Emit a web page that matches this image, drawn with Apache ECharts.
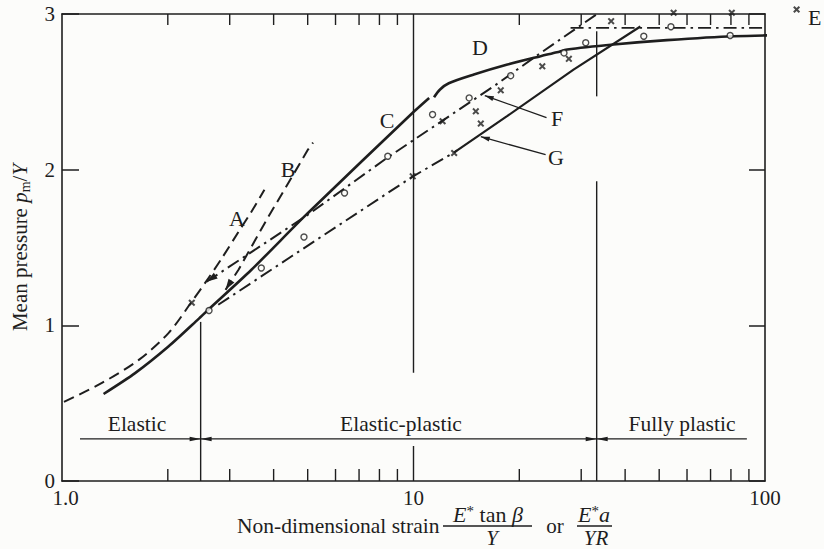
<!DOCTYPE html>
<html>
<head>
<meta charset="utf-8">
<script src="https://cdn.jsdelivr.net/npm/echarts@6/dist/echarts.min.js"></script>
<style>
html,body{margin:0;padding:0;background:#fcfcfa;}
#chart{width:824px;height:549px;}
</style>
</head>
<body>
<div id="chart"></div>
<script>
// ---------------- data ----------------
const xTickLabels = {1: '1.0', 10: '10', 100: '100'};
const yTicks = [0, 1, 2, 3];
const minorTicks = [2, 3, 4, 5, 6, 7, 8, 9, 20, 30, 40, 50, 60, 70, 80, 90];

// A: elastic (dashed)
const curveA = [[1.013,0.508],[1.299,0.630],[1.654,0.778],[2.012,0.952],[2.338,1.151],[2.578,1.286],[2.844,1.428],[3.178,1.601],[3.459,1.730],[3.766,1.871]];
// B: dashed
const curveB = [[2.919,1.228],[3.178,1.357],[3.459,1.505],[3.866,1.698],[4.292,1.871],[5.01,2.129],[5.18,2.174]];
// C: solid
const curveC = [[1.313,0.559],[1.614,0.693],[2.008,0.864],[2.443,1.040],[2.606,1.100],[3.459,1.357],[5.01,1.722],[10.05,2.375],[11.08,2.461]];
// D: solid, continues as plateau
const curveD = [[11.44,2.465],[11.9,2.515],[12.6,2.555],[14.85,2.611],[18.5,2.675],[23.0,2.729],[25.6,2.754],[27.38,2.772],[37.05,2.804],[52.6,2.832],[81.2,2.857],[143,2.868]];
// E: dash-dot plateau
const curveE = [[27.98,2.911],[145,2.911]];
// F: dash-dot
const curveF = [[2.578,1.280],[5.01,1.711],[8.45,2.079],[16.92,2.536],[23.0,2.750],[33.3,3.0]];
// G: dash-dot then solid
const curveG1 = [[2.783,1.132],[4.49,1.442],[9.95,1.956],[13.03,2.109]];
const curveG2 = [[13.03,2.109],[18.5,2.345],[28.53,2.643],[44.2,2.920]];

// experimental points
const pointsCircle = [[2.62,1.095],[3.69,1.368],[4.88,1.567],[6.365,1.850],[8.45,2.086],[11.33,2.354],[14.4,2.461],[18.9,2.604],[26.8,2.750],[30.9,2.815],[45.2,2.857],[54.0,2.918],[79.6,2.862]];
const pointsCross = [[2.34,1.145],[9.95,1.957],[12.1,2.311],[13.05,2.107],[15.04,2.375],[15.54,2.296],[17.71,2.51],[23.25,2.664],[27.67,2.712],[36.5,2.954],[54.96,3.008],[80.45,3.008],[123,3.029]];

// regime boundaries
const elasticLimit = 2.48;
const plasticLimit = 33.2;
const regionBarY = 0.27;
const regionBarEnds = [1.125, 88.8];
// vertical divider segments [x, y1, x, y2]
const dividers = [
  [elasticLimit, 0, elasticLimit, 1.022],
  [10, 0, 10, 0.225],
  [10, 0.695, 10, 3],
  [plasticLimit, 0, plasticLimit, 1.925],
  [plasticLimit, 2.471, plasticLimit, 2.889]
];
// leaders [tipX, tipY, endX, endY]
const leaderF = [15.95, 2.476, 23.9, 2.334];
const leaderG = [15.54, 2.212, 23.76, 2.096];

// ---------------- styling ----------------
const ink = '#1e1e1e';
const serif = '"Liberation Serif", "Times New Roman", serif';

const regionSegments = [
  [regionBarEnds[0], regionBarY, elasticLimit, regionBarY],
  [elasticLimit, regionBarY, plasticLimit, regionBarY],
  [plasticLimit, regionBarY, regionBarEnds[1], regionBarY]
];
// arrows: [tipX, tipY, fromX, fromY, length, halfWidth]
const arrows = [
  [curveF[0][0], curveF[0][1], curveF[1][0], curveF[1][1], 11, 3.5],
  [curveB[0][0], curveB[0][1], curveB[1][0], curveB[1][1], 11, 3.5],
  [leaderF[0], leaderF[1], leaderF[2], leaderF[3], 9, 2.5],
  [leaderG[0], leaderG[1], leaderG[2], leaderG[3], 9, 2.5],
  [elasticLimit, regionBarY, regionBarEnds[0], regionBarY, 11, 2.2],
  [elasticLimit, regionBarY, plasticLimit, regionBarY, 11, 2.2],
  [plasticLimit, regionBarY, elasticLimit, regionBarY, 11, 2.2],
  [plasticLimit, regionBarY, regionBarEnds[1], regionBarY, 11, 2.2]
];

function lineSeries(data, style, extra) {
  return Object.assign({
    type: 'line', data: data, symbol: 'none', silent: true, clip: false,
    lineStyle: Object.assign({color: ink, width: 2}, style),
    emphasis: {disabled: true}, z: 3
  }, extra || {});
}

function segmentSeries(data, width) {
  return {
    type: 'custom', data: data, silent: true, clip: false,
    encode: {x: [0, 2], y: [1, 3]},
    renderItem: function (params, api) {
      const p1 = api.coord([api.value(0), api.value(1)]);
      const p2 = api.coord([api.value(2), api.value(3)]);
      return {type: 'line', shape: {x1: p1[0], y1: p1[1], x2: p2[0], y2: p2[1]},
              style: {stroke: ink, lineWidth: width}};
    }, z: 2
  };
}

const dashed = [11, 6];
const dashDot = [13, 5, 2.5, 5];

const option = {
  backgroundColor: '#fcfcfa',
  animation: false,
  textStyle: {fontFamily: serif, color: ink},
  grid: {left: 60, top: 14, width: 705, height: 467, containLabel: false},
  xAxis: [
    {
      type: 'log', logBase: 10, min: 1, max: 100, position: 'bottom',
      axisLine: {show: true, onZero: false, lineStyle: {color: ink, width: 1.6}},
      axisTick: {show: false}, splitLine: {show: false}, minorTick: {show: false},
      axisLabel: {
        margin: 9, fontSize: 21, lineHeight: 16, fontFamily: serif, color: ink,
        formatter: function (v) {
          const r = Math.round(v);
          return r === 1 ? '{first|' + xTickLabels[r] + '}' : (xTickLabels[r] || '');
        },
        rich: {first: {fontSize: 21, lineHeight: 16, fontFamily: serif, color: ink, padding: [0, 0, 0, 7]}}
      }
    },
    {
      type: 'log', logBase: 10, min: 1, max: 100, position: 'top',
      axisLine: {show: true, onZero: false, lineStyle: {color: ink, width: 1.6}},
      axisTick: {show: false}, axisLabel: {show: false}, splitLine: {show: false}
    }
  ],
  yAxis: [
    {
      type: 'value', min: yTicks[0], max: yTicks[yTicks.length - 1], interval: 1, position: 'left',
      axisLine: {show: true, lineStyle: {color: ink, width: 1.6}},
      axisTick: {show: true, inside: true, length: 17, lineStyle: {color: ink, width: 1.5}},
      splitLine: {show: false},
      axisLabel: {margin: 7, fontSize: 21, lineHeight: 15, fontFamily: serif, color: ink},
      name: 'Mean pressure {i|p}{s|m}/{i|Y}',
      nameLocation: 'middle', nameGap: 30, nameRotate: 90,
      nameTextStyle: {
        fontSize: 21, fontFamily: serif, color: ink, lineHeight: 24,
        rich: {
          i: {fontStyle: 'italic', fontSize: 21, fontFamily: serif, color: ink, lineHeight: 24},
          s: {fontSize: 14, fontFamily: serif, color: ink, lineHeight: 10, verticalAlign: 'bottom'}
        }
      }
    },
    {
      type: 'value', min: yTicks[0], max: yTicks[yTicks.length - 1], interval: 1, position: 'right',
      axisLine: {show: true, lineStyle: {color: ink, width: 1.6}},
      axisTick: {show: true, inside: true, length: 16, lineStyle: {color: ink, width: 1.5}},
      splitLine: {show: false}, axisLabel: {show: false}
    }
  ],
  series: [
    lineSeries(curveA, {type: dashed, width: 2}, {smooth: 0.3}),
    lineSeries(curveB, {type: dashed, width: 2}),
    lineSeries(curveC, {width: 2.6}, {smooth: 0.25}),
    lineSeries(curveD, {width: 2.6}, {smooth: 0.3}),
    lineSeries(curveE, {type: dashDot, width: 1.9}),
    lineSeries(curveF, {type: dashDot, width: 2}),
    lineSeries(curveG1, {type: dashDot, width: 2}),
    lineSeries(curveG2, {width: 2.2}),
    {
      type: 'scatter', data: pointsCircle, symbol: 'circle', symbolSize: 6, clip: false, silent: true,
      itemStyle: {color: '#fcfcfa', borderColor: ink, borderWidth: 1.4}, z: 5
    },
    {
      type: 'scatter', data: pointsCross, clip: false, silent: true,
      symbol: 'path://M2,0L5,3L8,0L10,2L7,5L10,8L8,10L5,7L2,10L0,8L3,5L0,2Z', symbolSize: 7,
      itemStyle: {color: ink}, z: 5
    },
    {
      type: 'custom', data: minorTicks.map(function (v) { return [v, 0]; }), silent: true, clip: false,
      encode: {x: 0, y: 1},
      renderItem: function (params, api) {
        const v = api.value(0);
        const b = api.coord([v, yTicks[0]]);
        const t = api.coord([v, yTicks[yTicks.length - 1]]);
        return {type: 'group', children: [
          {type: 'line', shape: {x1: b[0], y1: b[1], x2: b[0], y2: b[1] - 12}, style: {stroke: ink, lineWidth: 1.4}},
          {type: 'line', shape: {x1: t[0], y1: t[1], x2: t[0], y2: t[1] + 11}, style: {stroke: ink, lineWidth: 1.4}}
        ]};
      }
    },
    segmentSeries(dividers, 1.4),
    segmentSeries(regionSegments, 1.3),
    segmentSeries([leaderF, leaderG], 1.3),
    {
      type: 'custom', data: arrows, silent: true, clip: false,
      encode: {x: [0, 2], y: [1, 3]},
      renderItem: function (params, api) {
        const tip = api.coord([api.value(0), api.value(1)]);
        const from = api.coord([api.value(2), api.value(3)]);
        const L = api.value(4), w = api.value(5);
        let dx = tip[0] - from[0], dy = tip[1] - from[1];
        const d = Math.sqrt(dx * dx + dy * dy) || 1;
        dx /= d; dy /= d;
        const bx = tip[0] - L * dx, by = tip[1] - L * dy;
        return {type: 'polygon', shape: {points: [
          [tip[0], tip[1]], [bx - w * dy, by + w * dx], [bx + w * dy, by - w * dx]
        ]}, style: {fill: ink}};
      }, z: 6
    }
  ],
  graphic: [
    // curve labels
    {type: 'text', x: 237, y: 218, style: {text: 'A', font: '22px ' + serif, fill: ink, align: 'center', verticalAlign: 'middle'}},
    {type: 'text', x: 288, y: 169, style: {text: 'B', font: '22px ' + serif, fill: ink, align: 'center', verticalAlign: 'middle'}},
    {type: 'text', x: 387, y: 120, style: {text: 'C', font: '22px ' + serif, fill: ink, align: 'center', verticalAlign: 'middle'}},
    {type: 'text', x: 480, y: 47, style: {text: 'D', font: '22px ' + serif, fill: ink, align: 'center', verticalAlign: 'middle'}},
    {type: 'text', x: 808, y: 17, style: {text: 'E', font: '22px ' + serif, fill: ink, align: 'left', verticalAlign: 'middle'}},
    {type: 'text', x: 557, y: 118, style: {text: 'F', font: '22px ' + serif, fill: ink, align: 'center', verticalAlign: 'middle'}},
    {type: 'text', x: 556, y: 157, style: {text: 'G', font: '22px ' + serif, fill: ink, align: 'center', verticalAlign: 'middle'}},
    // regime labels
    {type: 'text', x: 137, y: 424, style: {text: 'Elastic', font: '21.5px ' + serif, fill: ink, align: 'center', verticalAlign: 'middle'}},
    {type: 'text', x: 401, y: 424, style: {text: 'Elastic-plastic', font: '21.5px ' + serif, fill: ink, align: 'center', verticalAlign: 'middle'}},
    {type: 'text', x: 682, y: 424, style: {text: 'Fully plastic', font: '21.5px ' + serif, fill: ink, align: 'center', verticalAlign: 'middle'}},
    // x-axis title
    {type: 'text', x: 237, y: 526, style: {text: 'Non-dimensional strain', font: '21.5px ' + serif, fill: ink, align: 'left', verticalAlign: 'middle'}},
    {type: 'text', x: 488, y: 514, style: {
      text: '{i|E}{s|*} tan {i|β}', font: '22px ' + serif, fill: ink, align: 'center', verticalAlign: 'middle',
      rich: {i: {fontStyle: 'italic', fontSize: 22, fontFamily: serif, fill: ink, lineHeight: 22},
             s: {fontSize: 15, fontFamily: serif, fill: ink, lineHeight: 12, verticalAlign: 'top'}}}},
    {type: 'line', shape: {x1: 443, y1: 526, x2: 532, y2: 526}, style: {stroke: ink, lineWidth: 1.3}},
    {type: 'text', x: 492, y: 538, style: {text: 'Y', font: 'italic 21px ' + serif, fill: ink, align: 'center', verticalAlign: 'middle'}},
    {type: 'text', x: 555, y: 526, style: {text: 'or', font: '21px ' + serif, fill: ink, align: 'center', verticalAlign: 'middle'}},
    {type: 'text', x: 594, y: 514, style: {
      text: '{i|E}{s|*}{i|a}', font: '22px ' + serif, fill: ink, align: 'center', verticalAlign: 'middle',
      rich: {i: {fontStyle: 'italic', fontSize: 22, fontFamily: serif, fill: ink, lineHeight: 22},
             s: {fontSize: 15, fontFamily: serif, fill: ink, lineHeight: 12, verticalAlign: 'top'}}}},
    {type: 'line', shape: {x1: 577, y1: 526, x2: 612, y2: 526}, style: {stroke: ink, lineWidth: 1.3}},
    {type: 'text', x: 596, y: 538, style: {text: 'YR', font: 'italic 21px ' + serif, fill: ink, align: 'center', verticalAlign: 'middle'}}
  ]
};

const chart = echarts.init(document.getElementById('chart'), null, {renderer: 'svg'});
chart.setOption(option);
</script>
</body>
</html>
